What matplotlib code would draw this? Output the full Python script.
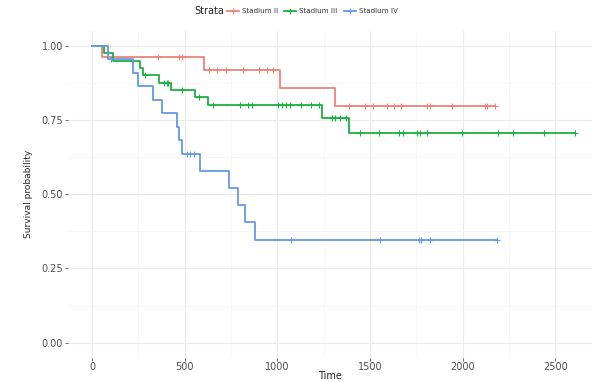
import numpy as np
import matplotlib
matplotlib.use("Agg")
import matplotlib.pyplot as plt
from matplotlib.lines import Line2D

# Kaplan-Meier steps (time, survival level after step)
red_times = [0, 54, 605, 1013, 1310]
red_surv = [1.0, 0.962, 0.918, 0.857, 0.797]
red_censor = [356, 468, 485, 630, 675, 722, 815, 900, 945, 975,
              1388, 1473, 1515, 1590, 1632, 1667, 1810, 1825, 1944,
              2120, 2133, 2174]

green_times = [0, 62, 113, 258, 276, 360, 425, 555, 626, 1239, 1388]
green_surv = [1.0, 0.975, 0.950, 0.925, 0.900, 0.876, 0.851, 0.826,
              0.801, 0.757, 0.707]
green_censor = [285, 387, 402, 410, 483, 575, 653, 797, 842, 865, 1004,
                1025, 1048, 1067, 1128, 1180, 1224, 1293, 1314, 1341,
                1372, 1449, 1548, 1658, 1680, 1755, 1772, 1806, 1998,
                2192, 2273, 2439, 2606]

blue_times = [0, 88, 223, 248, 328, 377, 457, 470, 488, 580, 738, 788,
              824, 879]
blue_surv = [1.0, 0.955, 0.909, 0.864, 0.818, 0.773, 0.727, 0.682,
             0.636, 0.578, 0.520, 0.463, 0.405, 0.347]
blue_censor = [100, 510, 527, 549, 1073, 1555, 1765, 1775, 1822, 2186]

strata = ["Stadium II", "Stadium III", "Stadium IV"]
colors = ["#EE8179", "#1DB042", "#6699E8"]
x_ticks = [0, 500, 1000, 1500, 2000, 2500]
y_ticks = [0.0, 0.25, 0.5, 0.75, 1.0]

series = [(red_times, red_surv, red_censor),
          (green_times, green_surv, green_censor),
          (blue_times, blue_surv, blue_censor)]

fig = plt.figure(figsize=(5.92, 3.82), dpi=100)
ax = fig.add_axes([68 / 592, 1 - 357.5 / 382, 1 - 68 / 592, (357.5 - 30.9) / 382])

for (t, s, c), col in zip(series, colors):
    t = np.asarray(t, float)
    s = np.asarray(s, float)
    c = np.asarray(c, float)
    # carry the last level out to the last follow-up time
    tt = np.append(t, c.max())
    ss = np.append(s, s[-1])
    ax.step(tt, ss, where="post", color=col, lw=1.3, zorder=3)
    lvl = s[np.searchsorted(t, c, side="right") - 1]
    ax.plot(c, lvl, ls="none", marker="+", ms=4.5, mew=0.8, color=col, zorder=4)

ax.set_xlim(-130, 2699)
ax.set_ylim(-0.05, 1.05)
ax.set_xticks(x_ticks)
ax.set_xticks([250, 750, 1250, 1750, 2250], minor=True)
ax.set_yticks(y_ticks)
ax.set_yticks([0.125, 0.375, 0.625, 0.875], minor=True)
ax.set_yticklabels(["%.2f" % v for v in y_ticks])
ax.grid(which="major", color="#EBEBEB", lw=0.8, zorder=0)
ax.grid(which="minor", color="#F4F4F4", lw=0.5, zorder=0)
for sp in ax.spines.values():
    sp.set_visible(False)
ax.tick_params(which="major", length=2, width=0.5, color="#333333",
               labelsize=7, labelcolor="#4D4D4D", pad=1.5)
ax.tick_params(which="minor", length=0)

fig.text(330 / 592, 1 - 376 / 382, "Time", ha="center", va="center",
         fontsize=7, color="#222222")
ax.set_ylabel("Survival probability", fontsize=6.5, color="#222222", labelpad=6)

fig.text(209 / 592, 1 - 11 / 382, "Strata", ha="center", va="center",
         fontsize=7, color="#222222")
handles = [Line2D([], [], color=col, lw=1.3, marker="+", ms=4.5, mew=0.8)
           for col in colors]
fig.legend(handles, strata, loc="center left", bbox_to_anchor=(227 / 592, 1 - 11 / 382),
           ncol=3, frameon=False, fontsize=5.1, handlelength=1.7,
           handletextpad=0.4, columnspacing=0.9, borderpad=0, borderaxespad=0,
           labelcolor="#333333")

fig.savefig("out.png", dpi=100)
